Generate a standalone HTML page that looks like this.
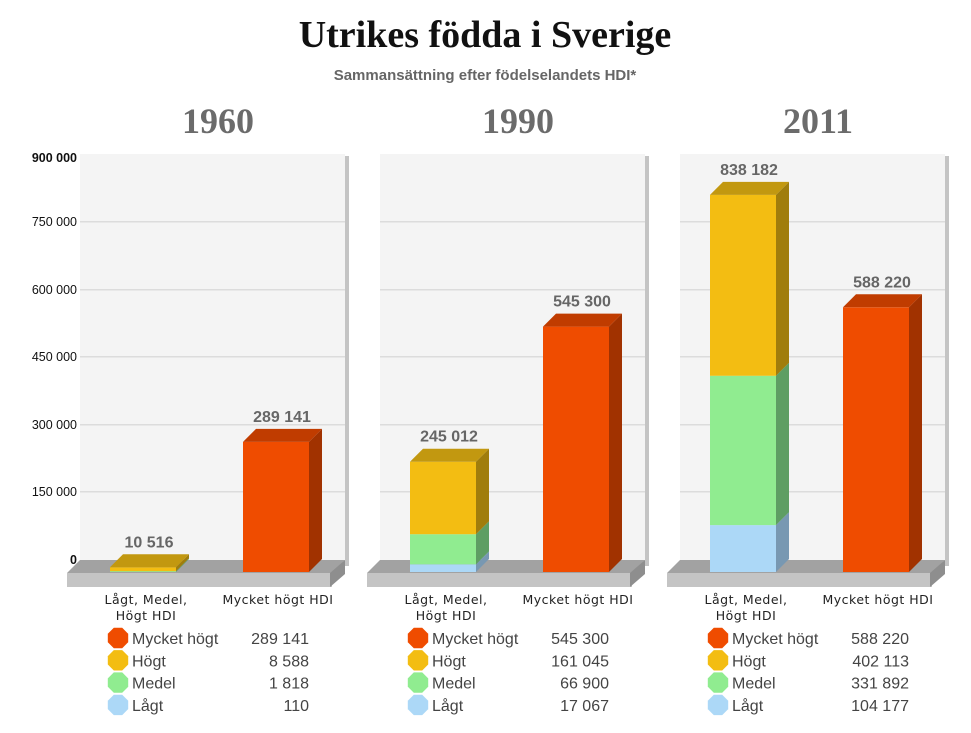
<!DOCTYPE html>
<html><head><meta charset="utf-8"><style>
body{margin:0;background:#fff;width:971px;height:733px;overflow:hidden}
svg{display:block}
</style></head><body>
<svg id="s" width="971" height="733" xmlns="http://www.w3.org/2000/svg" font-family="Liberation Sans, sans-serif">
<text x="485" y="47" text-anchor="middle" font-family="Liberation Serif, serif" font-weight="bold" font-size="38" fill="#111">Utrikes födda i Sverige</text>
<text x="485" y="80" text-anchor="middle" font-weight="bold" font-size="15" fill="#666">Sammansättning efter födelselandets HDI*</text>
<g font-size="12.5" fill="#111" text-anchor="end">
<text x="77" y="162" font-weight="bold">900 000</text>
<text x="77" y="226">750 000</text>
<text x="77" y="294">600 000</text>
<text x="77" y="361">450 000</text>
<text x="77" y="429">300 000</text>
<text x="77" y="496">150 000</text>
<text x="77" y="564" font-weight="bold">0</text>
</g>
</svg>
<script>
const s=document.getElementById('s');const NS='http://www.w3.org/2000/svg';
function el(t,a,txt){const e=document.createElementNS(NS,t);for(const k in a)e.setAttribute(k,a[k]);if(txt!==undefined)e.textContent=txt;s.appendChild(e);return e;}
const K=0.00045,B=572,D=13;
const cols={o:['#ef4c00','#c03c00','#a13200'],y:['#f3bd12','#c29810','#a07d0c'],g:['#90ec90','#72c072','#5e9e63'],b:['#acd8f7','#8fb4cf','#7898b2']};
const data=[
 {yr:'1960',tot:'10 516',top:10516,segs:[['b',110],['g',1818],['y',8588]],m:289141,ms:'289 141',leg:['289 141','8 588','1 818','110']},
 {yr:'1990',tot:'245 012',top:245012,segs:[['b',17067],['g',66900],['y',161045]],m:545300,ms:'545 300',leg:['545 300','161 045','66 900','17 067']},
 {yr:'2011',tot:'838 182',top:838182,segs:[['b',104177],['g',331892],['y',402113]],m:588220,ms:'588 220',leg:['588 220','402 113','331 892','104 177']}];
function bar(x,w,y0,y1,c,topFace){
 el('rect',{x:x,y:y1,width:w,height:y0-y1,fill:c[0]});
 el('polygon',{points:`${x+w},${y0} ${x+w+D},${y0-D} ${x+w+D},${y1-D} ${x+w},${y1}`,fill:c[2]});
 if(topFace)el('polygon',{points:`${x},${y1} ${x+D},${y1-D} ${x+w+D},${y1-D} ${x+w},${y1}`,fill:c[1]});
}
data.forEach((d,i)=>{
 const o=i*300;
 el('text',{x:218+o,y:133,'text-anchor':'middle','font-family':'Liberation Serif, serif','font-weight':'bold','font-size':36,fill:'#6b6b6b'},d.yr);
 el('rect',{x:80+o,y:154,width:265,height:410,fill:'#f4f4f4'});
 el('rect',{x:345+o,y:156,width:4,height:410,fill:'#c4c4c4'});
 [221,289,356,424,491].forEach(y=>el('rect',{x:80+o,y:y,width:265,height:1.5,fill:'#dcdcdc'}));
 el('polygon',{points:`${67+o},${573} ${80+o},${560} ${345+o},${560} ${332+o},${573}`,fill:'#a2a2a2'});
 el('rect',{x:67+o,y:573,width:265,height:14,fill:'#c4c4c4'});
 el('polygon',{points:`${330+o},573 ${345+o},560 ${345+o},574 ${330+o},587`,fill:'#8e8e8e'});
 let cum=0;const n=d.segs.length;
 d.segs.forEach((sg,j)=>{const y0=B-cum*K;cum+=sg[1];const y1=B-cum*K;bar(110+o,66,y0,y1,cols[sg[0]],j==n-1);});
 el('text',{x:149+o,y:B-d.top*K-20,'text-anchor':'middle','font-weight':'bold','font-size':16,fill:'#666'},d.tot);
 bar(243+o,66,B,B-d.m*K,cols.o,true);
 el('text',{x:282+o,y:B-d.m*K-20,'text-anchor':'middle','font-weight':'bold','font-size':16,fill:'#666'},d.ms);
 const lab={'text-anchor':'middle','font-family':'DejaVu Sans, sans-serif','font-size':12.5,'letter-spacing':'0.5',fill:'#222'};
 el('text',Object.assign({x:146+o,y:604},lab),'Lågt, Medel,');
 el('text',Object.assign({x:146+o,y:620},lab),'Högt HDI');
 el('text',Object.assign({x:278+o,y:604},lab),'Mycket högt HDI');
 const names=['Mycket högt','Högt','Medel','Lågt'];const lc=['#ef4c00','#f3bd12','#90ec90','#acd8f7'];
 names.forEach((nm,j)=>{const cy=638+j*22.3;const cx=118+o,r=11;
  let pts=[];for(let k=0;k<8;k++){const a=Math.PI/8+k*Math.PI/4;pts.push((cx+r*Math.cos(a)).toFixed(1)+','+(cy+r*Math.sin(a)).toFixed(1));}
  el('polygon',{points:pts.join(' '),fill:lc[j]});
  el('text',{x:132+o,y:cy+6,'font-size':16,fill:'#444'},nm);
  el('text',{x:309+o,y:cy+6,'font-size':16,fill:'#444','text-anchor':'end'},d.leg[j]);
 });
});
</script>
</body></html>
